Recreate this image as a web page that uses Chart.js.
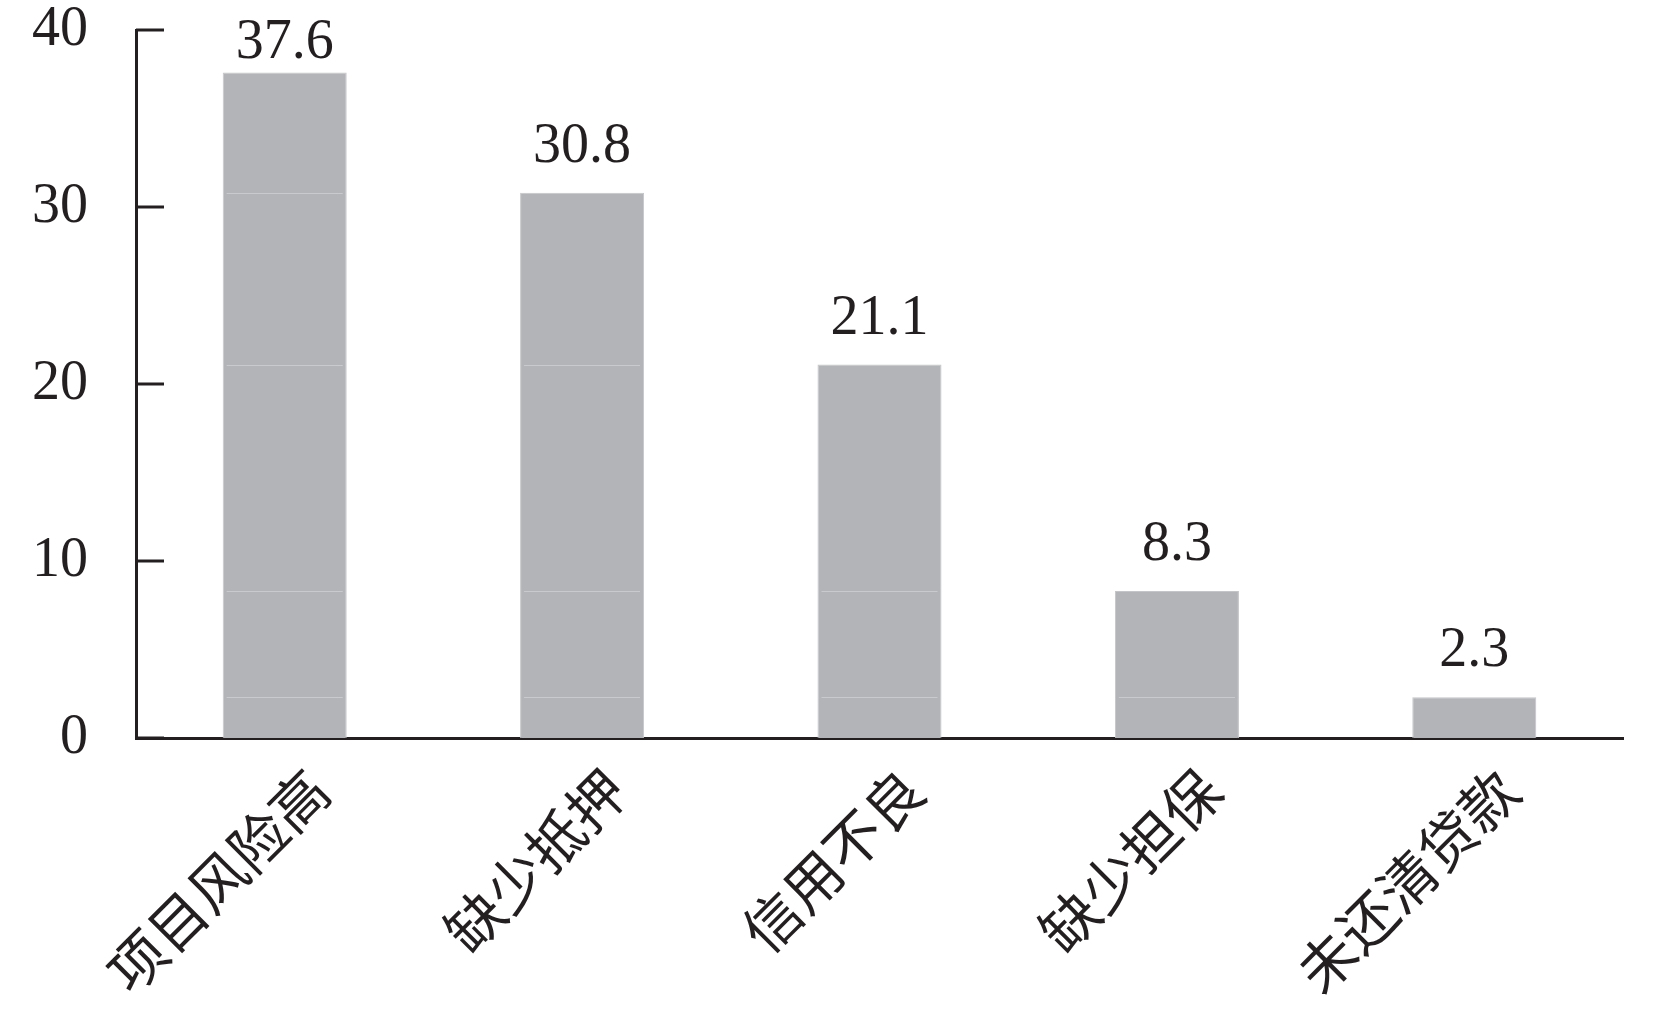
<!DOCTYPE html>
<html>
<head>
<meta charset="utf-8">
<script src="https://cdn.jsdelivr.net/npm/chart.js@4/dist/chart.umd.min.js"></script>
<style>
  html, body { margin: 0; padding: 0; background: #fff; }
  #wrap { width: 1655px; height: 1010px; }
</style>
</head>
<body>
<div id="wrap"><canvas id="chart"></canvas></div>
<script>
const categories = ['项目风险高', '缺少抵押', '信用不良', '缺少担保', '未还清贷款'];
const values = [37.6, 30.8, 21.1, 8.3, 2.3];
const yTicks = [0, 10, 20, 30, 40];

const ink = '#231f20';
const numFont = '"Liberation Serif", "Times New Roman", serif';

// value labels above bars, faint seams inside bars, inward y ticks
const extras = {
  id: 'extras',
  afterDatasetsDraw(chart) {
    const ctx = chart.ctx;
    const meta = chart.getDatasetMeta(0);
    const y = chart.scales.y;
    ctx.save();
    // seams at the heights of the shorter bars
    ctx.strokeStyle = '#c9cacd';
    ctx.lineWidth = 1;
    meta.data.forEach((bar, i) => {
      const half = bar.width / 2;
      values.forEach(v => {
        if (v < values[i]) {
          const py = Math.round(y.getPixelForValue(v)) + 0.5;
          ctx.beginPath();
          ctx.moveTo(bar.x - half + 4, py);
          ctx.lineTo(bar.x + half - 4, py);
          ctx.stroke();
        }
      });
    });
    // value labels (the tallest one is squeezed under the top edge)
    ctx.fillStyle = ink;
    ctx.font = '56px ' + numFont;
    ctx.textAlign = 'center';
    ctx.textBaseline = 'alphabetic';
    meta.data.forEach((bar, i) => {
      ctx.fillText(values[i].toFixed(1), bar.x, Math.max(bar.y - 31, 58));
    });
    // inward ticks on the y axis
    ctx.strokeStyle = ink;
    ctx.lineWidth = 3;
    y.ticks.forEach((t, i) => {
      const py = y.getPixelForTick(i);
      ctx.beginPath();
      ctx.moveTo(chart.chartArea.left, py);
      ctx.lineTo(chart.chartArea.left + 28, py);
      ctx.stroke();
    });
    ctx.restore();
  }
};

function noPad(scale) {
  scale.paddingTop = 0;
  scale.paddingBottom = 0;
  scale.paddingLeft = 0;
  scale.paddingRight = 0;
}

new Chart(document.getElementById('chart'), {
  type: 'bar',
  data: {
    labels: categories,
    datasets: [{
      data: values,
      backgroundColor: '#b3b4b8',
      borderColor: '#c4c5c8',
      borderWidth: 1,
      categoryPercentage: 1,
      barPercentage: 0.417
    }]
  },
  options: {
    responsive: true,
    maintainAspectRatio: false,
    animation: false,
    devicePixelRatio: 1,
    layout: { padding: { top: 30, right: 32, left: 0, bottom: 0 } },
    plugins: { legend: { display: false }, tooltip: { enabled: false } },
    scales: {
      x: {
        grid: { display: false, drawTicks: false },
        border: { color: ink, width: 3 },
        ticks: {
          color: ink,
          font: { family: '"Noto Sans CJK SC", sans-serif', size: 57 },
          minRotation: 45,
          maxRotation: 45,
          padding: 18,
          labelOffset: 34
        },
        afterFit(scale) { scale.height = 272; noPad(scale); }
      },
      y: {
        min: 0,
        max: 40,
        afterBuildTicks(scale) { scale.ticks = yTicks.map(v => ({ value: v })); },
        grid: { display: false, drawTicks: false },
        border: { color: ink, width: 3 },
        ticks: {
          color: ink,
          font: { family: numFont, size: 56 },
          padding: 48
        },
        afterFit(scale) { scale.width = 136; noPad(scale); }
      }
    }
  },
  plugins: [extras]
});
</script>
</body>
</html>
